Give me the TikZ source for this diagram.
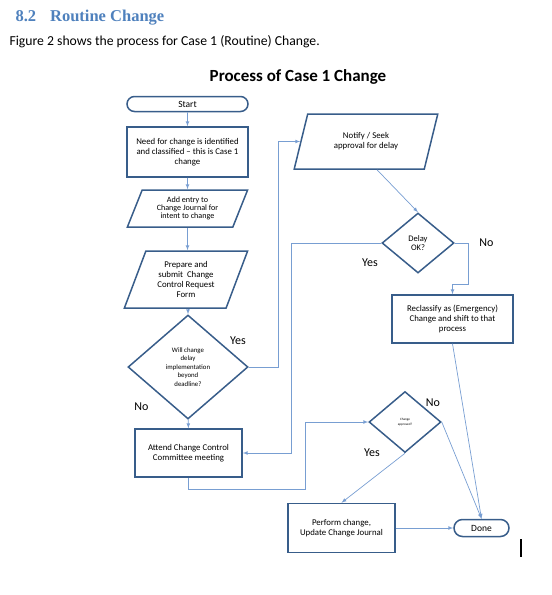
\documentclass[tikz,border=0pt]{standalone}
\usepackage{fontspec}
\setmainfont{Carlito}
\newfontfamily\headfont{Liberation Serif}
\usetikzlibrary{shapes.geometric,shapes.misc,arrows}

\definecolor{headblue}{RGB}{79,129,189}
\definecolor{boxblue}{RGB}{56,93,138}
\definecolor{linkblue}{RGB}{120,158,210}

\begin{document}
\begin{tikzpicture}[x=1pt, y=-1pt,
    box/.style={rectangle, draw=boxblue, line width=1.5pt, align=center, inner sep=0pt,
        font=\fontsize{8.8}{10}\selectfont},
    para/.style={trapezium, trapezium left angle=67, trapezium right angle=113,
        trapezium stretches=true, draw=boxblue, line width=1.5pt, align=center, inner sep=0pt,
        font=\fontsize{8.8}{10}\selectfont},
    choice/.style={diamond, draw=boxblue, line width=1.5pt, align=center, inner sep=0pt},
    term/.style={rounded rectangle, draw=boxblue, line width=1.5pt, inner sep=0pt,
        font=\fontsize{9.5}{11}\selectfont},
    flow/.style={draw=linkblue, line width=0.7pt, -latex},
    answer/.style={font=\fontsize{12}{14}\selectfont}]

    \useasboundingbox (0,0) rectangle (552,595);

    % heading and caption
    \node at (12,18) [anchor=west, text=headblue, font=\headfont\bfseries\fontsize{16.5}{18}\selectfont] (head) {8.2\hspace{14pt}Routine Change};
    \node at (6,42) [anchor=west, font=\fontsize{13.7}{16}\selectfont] (caption) {Figure 2 shows the process for Case 1 (Routine) Change.};
    \node at (298,77) [font=\bfseries\fontsize{17}{20}\selectfont] (title) {Process of Case 1 Change};

    % left column
    \node at (187.5,104) [term, minimum width=121pt, minimum height=15pt] (start) {Start};
    \node at (187.5,152) [box, minimum width=121pt, minimum height=50pt] (need) {Need for change is identified\\and classified -- this is Case 1\\change};
    \node at (187.5,208.5) [para, minimum width=121pt, minimum height=37pt, font=\fontsize{8.1}{8.3}\selectfont] (entry) {Add entry to\\Change Journal for\\intent to change};
    \node at (186,279.5) [para, minimum width=124pt, minimum height=57pt] (submit) {Prepare and\\submit~ Change\\Control Request\\Form};
    \node at (188,367) [choice, minimum width=120pt, minimum height=104pt, font=\fontsize{6.8}{8.5}\selectfont] (willdelay) {Will change\\delay\\implementation\\beyond\\deadline?};
    \node at (188.5,453) [box, minimum width=107pt, minimum height=48pt] (attend) {Attend Change Control\\Committee meeting};

    % right column
    \node at (366,141.5) [para, minimum width=144pt, minimum height=55pt] (notify) {Notify / Seek\\approval for delay};
    \node at (418,243) [choice, minimum width=72pt, minimum height=60pt, font=\fontsize{8.5}{9.7}\selectfont] (delayok) {Delay\\OK?};
    \node at (452.5,319) [box, minimum width=121pt, minimum height=48pt] (reclass) {Reclassify as (Emergency)\\Change and shift to that\\process};
    \node at (405,422) [choice, minimum width=72pt, minimum height=61pt, font=\fontsize{3.3}{4.7}\selectfont] (approved) {Change\\approved?};
    \node at (341.5,528) [box, minimum width=107pt, minimum height=49pt] (perform) {Perform change,\\Update Change Journal};
    \node at (481.5,528) [term, minimum width=55pt, minimum height=17pt] (done) {Done};

    % answers
    \node at (238,341) [answer] (willyes) {Yes};
    \node at (141.5,406.5) [answer] (willno) {No};
    \node at (486.5,243) [answer] (delayno) {No};
    \node at (370,263) [answer] (delayyes) {Yes};
    \node at (433,403) [answer] (apprno) {No};
    \node at (372,453) [answer] (appryes) {Yes};

    \draw[flow] (start) -- (need);
    \draw[flow] (need) -- (entry);
    \draw[flow] (entry.south) -- (entry.south |- submit.north);
    \draw[flow] (submit.south -| willdelay.north) -- (willdelay.north);
    \draw[flow] (willdelay) -- (attend);
    \draw[flow] (willdelay.east) -- ++(30,0) |- (notify);
    \draw[flow] ([xshift=11pt]notify.south) -- (delayok.north);
    \draw[flow] (delayok.west) -- ++(-90,0) |- (attend);
    \draw[flow] (delayok.east) -- ++(14,0) -- ++(0,41) -| (reclass);
    \draw[flow] (reclass.south) -- (done.north);
    \draw[flow] (attend.south) -- ++(0,12) -- ++(117,0) |- (approved.west);
    \draw[flow] (approved.east) -- (done.north);
    \draw[flow] (approved.south) -- (perform.north);
    \draw[flow] (perform) -- (done);

    % text cursor
    \draw[line width=1.8pt] (520.7,539) -- (520.7,557);
\end{tikzpicture}
\end{document}
